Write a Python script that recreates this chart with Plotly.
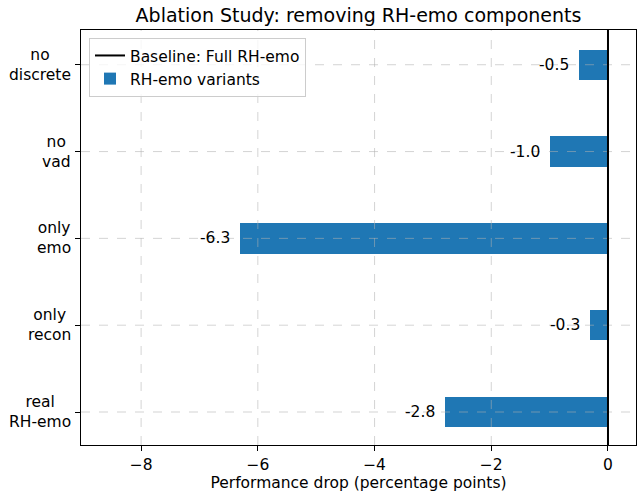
import plotly.graph_objects as go

categories = ["real<br>RH-emo", "only<br>recon", "only<br>emo", "no<br>vad", "no<br>discrete"]
values = [-2.8, -0.3, -6.3, -1.0, -0.5]
x_ticks = [-8, -6, -4, -2, 0]
x_tick_labels = ["\u22128", "\u22126", "\u22124", "\u22122", "0"]

positions = list(range(len(categories)))
FONT = "DejaVu Sans"
FS = 15.5

fig = go.Figure()
fig.add_trace(go.Scatter(x=[None], y=[None], mode="lines",
                         line=dict(color="black", width=2),
                         name="Baseline: Full RH-emo"))
fig.add_trace(go.Bar(x=values, y=positions, orientation="h", width=0.35,
                     marker=dict(color="#1f77b4", line=dict(width=0)),
                     name="RH-emo variants"))

shapes = []
for t in x_ticks:
    shapes.append(dict(type="line", xref="x", yref="paper", x0=t, x1=t, y0=0, y1=1,
                       line=dict(color="rgba(176,176,176,0.55)", width=1, dash="dash"),
                       layer="above"))
for p in positions:
    shapes.append(dict(type="line", xref="paper", yref="y", x0=0, x1=1, y0=p, y1=p,
                       line=dict(color="rgba(176,176,176,0.55)", width=1, dash="dash"),
                       layer="above"))
shapes.append(dict(type="line", xref="x", yref="paper", x0=0, x1=0, y0=0, y1=1,
                   line=dict(color="black", width=2), layer="above"))

annotations = []
for p, v in zip(positions, values):
    annotations.append(dict(x=v, y=p, xref="x", yref="y", text=f"{v:.1f}",
                            showarrow=False, xanchor="right", yanchor="middle",
                            xshift=-8, font=dict(family=FONT, size=FS, color="black")))
for p, c in zip(positions, categories):
    annotations.append(dict(x=0, y=p, xref="paper", yref="y", text=c,
                            showarrow=False, xanchor="right", yanchor="middle",
                            align="center", xshift=-8,
                            font=dict(family=FONT, size=FS, color="black")))

fig.update_layout(
    width=637, height=493,
    margin=dict(l=81, r=1, t=30, b=48),
    paper_bgcolor="white", plot_bgcolor="white",
    font=dict(family=FONT, size=FS, color="black"),
    title=dict(text="Ablation Study: removing RH-emo components", x=0.5628, xanchor="center",
               y=1 - 15 / 493, yanchor="middle", font=dict(family=FONT, size=19)),
    shapes=shapes, annotations=annotations,
    showlegend=True,
    legend=dict(x=0.0144, y=0.981, xanchor="left", yanchor="top",
                bordercolor="#cccccc", borderwidth=1, bgcolor="rgba(255,255,255,0.8)",
                font=dict(family=FONT, size=FS), tracegroupgap=0),
    bargap=0,
)
fig.update_xaxes(range=[-9.03, 0.48], tickvals=x_ticks, ticktext=x_tick_labels,
                 showgrid=False, zeroline=False, showline=True, linecolor="black",
                 linewidth=1, mirror=True, ticks="outside", ticklen=5, tickcolor="black",
                 title=dict(text="Performance drop (percentage points)", standoff=2,
                            font=dict(family=FONT, size=FS)))
fig.update_yaxes(range=[-0.38, 4.40], tickvals=positions, ticktext=[""] * len(positions),
                 showgrid=False, zeroline=False, showline=True, linecolor="black",
                 linewidth=1, mirror=True, ticks="outside", ticklen=5, tickcolor="black")

fig.write_html("out.html", config={"displayModeBar": False},
               post_script="document.body.style.margin='0px';")
